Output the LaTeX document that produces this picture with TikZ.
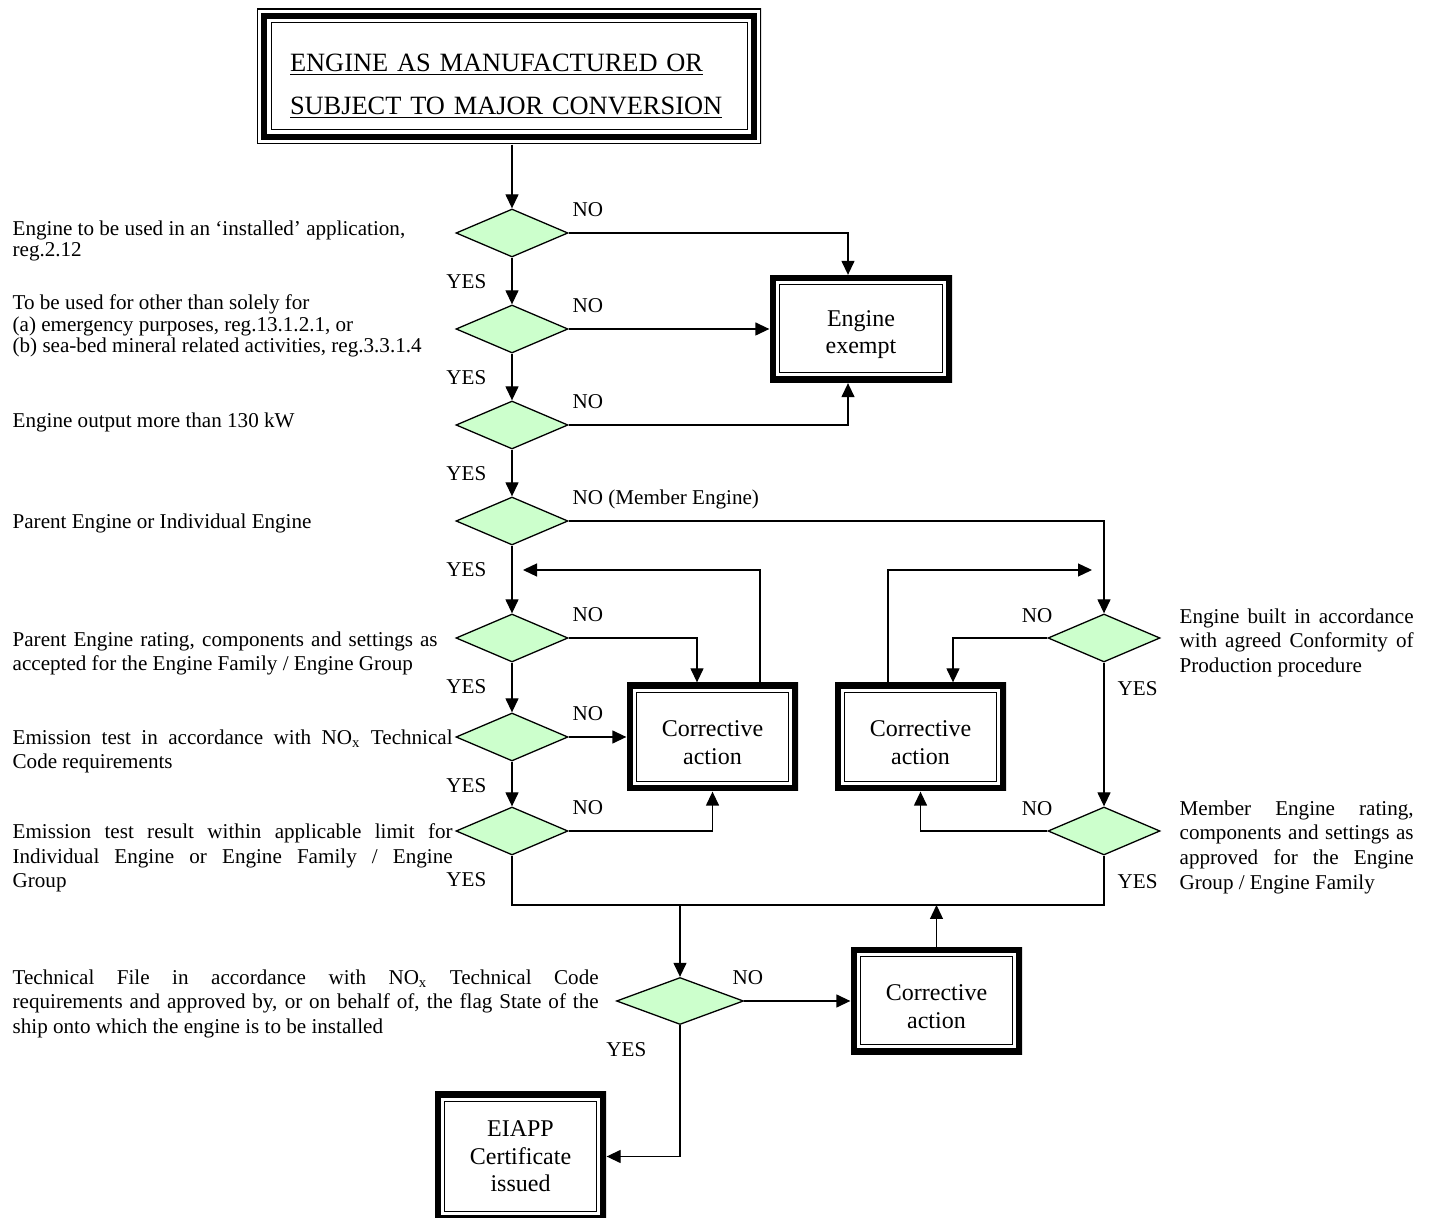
\documentclass[tikz,border=0pt]{standalone}
\usepackage{fontspec}
\setmainfont{Liberation Serif}
\usetikzlibrary{shapes.geometric,arrows.meta,positioning}
\definecolor{decgreen}{RGB}{204,255,204}
\newcommand{\jl}[2]{\makebox[#1][s]{#2}}
\tikzset{
    decision/.style = {draw, diamond, fill=decgreen, inner sep=0pt,
        minimum width=56pt, minimum height=24pt},
    action/.style = {rectangle, fill=white, text width=75pt, align=center,
        minimum width=85.5pt, minimum height=54pt,
        font=\fontsize{12}{13.75}\selectfont,
        path picture={
            \draw[line width=6pt] (path picture bounding box.south west) rectangle (path picture bounding box.north east);
            \draw[line width=0.5pt] ([shift={(4.75pt,4.75pt)}]path picture bounding box.south west) rectangle ([shift={(-4.75pt,-4.75pt)}]path picture bounding box.north east);
        }},
    twoline/.style = {action, execute at begin node={\rule{0pt}{13.5pt}}},
    titlebox/.style = {rectangle, fill=white, minimum width=252pt, minimum height=67.5pt,
        text width=219pt, align=left, font=\fontsize{13.2}{21.5}\selectfont,
        execute at begin node={\rule{0pt}{18.6pt}},
        path picture={
            \draw[line width=1pt] (path picture bounding box.south west) rectangle (path picture bounding box.north east);
            \draw[line width=3pt] ([shift={(3.5pt,3.5pt)}]path picture bounding box.south west) rectangle ([shift={(-3.5pt,-3.5pt)}]path picture bounding box.north east);
            \draw[line width=0.5pt] ([shift={(7pt,7pt)}]path picture bounding box.south west) rectangle ([shift={(-7pt,-7pt)}]path picture bounding box.north east);
        }},
    answer/.style = {inner sep=0pt, font=\fontsize{10.55}{12}\selectfont},
    note/.style = {inner sep=0pt, anchor=north west, align=left,
        font=\fontsize{10.55}{12.3}\selectfont,
        execute at begin node={\rule{0pt}{8pt}}},
    tightnote/.style = {note, font=\fontsize{10.55}{10.85}\selectfont}
}

\begin{document}
\begin{tikzpicture}[x=0.5pt, y=-0.5pt, line width=0.65pt, >={Triangle[length=7pt,width=6.5pt]}]
        \useasboundingbox (0,0) rectangle (1431,1218);
        \node [titlebox] (start) at (509,76.5) {\underline{ENGINE AS MANUFACTURED OR}\\\underline{SUBJECT TO MAJOR CONVERSION}};
        % decisions
        \node [decision] (d1) at (512,233) {};
        \node [decision, below of=d1, node distance=48pt] (d2) {};
        \node [decision, below of=d2, node distance=48pt] (d3) {};
        \node [decision, below of=d3, node distance=48pt] (d4) {};
        \node [decision, below of=d4, node distance=58.5pt] (d5) {};
        \node [decision, below of=d5, node distance=49.5pt] (d6) {};
        \node [decision, below of=d6, node distance=47pt] (d7) {};
        \node [decision, right of=d5, node distance=296pt] (d9) {};
        \node [decision, right of=d7, node distance=296pt] (d10) {};
        \node [decision, minimum width=63.5pt, minimum height=23.5pt] (d8) at (680,1001) {};
        % outcomes
        \node [twoline, right of=d2, node distance=174.5pt, minimum width=91pt, minimum height=53.5pt] (exempt) {Engine\\exempt};
        \node [twoline, right of=d6, node distance=100.25pt] (act1) {Corrective\\action};
        \node [twoline, right of=act1, node distance=104pt] (act2) {Corrective\\action};
        \node [twoline, right of=d8, node distance=128.25pt, minimum height=53.5pt] (act3) {Corrective\\action};
        \node [action, minimum height=64.5pt] (cert) at (520.5,1156.5) {EIAPP\\Certificate\\issued};
        \coordinate (back1) at (523,570);
        \coordinate (back2) at (1092,570);
        \coordinate (join) at (680,905);
        % answers
        \foreach \n in {1,...,7}
            \node [answer, anchor=base east] (yes\n) at ([shift={(-12.5pt,-28pt)}]d\n.center) {YES};
        \foreach \n in {1,2,3,5,6,7}
            \node [answer, anchor=base west] (no\n) at ([shift={(30pt,8pt)}]d\n.center) {NO};
        \node [answer, anchor=base west] (no4) at ([shift={(30pt,8pt)}]d4.center) {NO (Member Engine)};
        \foreach \n in {9,10}{
            \node [answer, anchor=base east] (no\n) at ([shift={(-25.5pt,7.5pt)}]d\n.center) {NO};
            \node [answer, anchor=base west] (yes\n) at ([shift={(6.5pt,-29pt)}]d\n.center) {YES};
        }
        \node [answer, anchor=base west] (no8) at ([shift={(26pt,8pt)}]d8.center) {NO};
        \node [answer, anchor=base east] (yes8) at ([shift={(-16.5pt,-28pt)}]d8.center) {YES};
        % questions
        \node [tightnote] (n1) at (12,220) {Engine to be used in an ‘installed’ application,\\reg.2.12};
        \node [tightnote] (n2) at (12,294) {To be used for other than solely for\\(a) emergency purposes, reg.13.1.2.1, or\\(b) sea-bed mineral related activities, reg.3.3.1.4};
        \node [note] (n3) at (12,411) {Engine output more than 130 kW};
        \node [note] (n4) at (12,512) {Parent Engine or Individual Engine};
        \node [note] (n5) at (12,631) {\jl{212.5pt}{Parent Engine rating, components and settings as}\\accepted for the Engine Family / Engine Group};
        \node [note] (n6) at (12,729) {\jl{220pt}{Emission test in accordance with NO\textsubscript{x} Technical}\\Code requirements};
        \node [note] (n7) at (12,823) {\jl{220pt}{Emission test result within applicable limit for}\\\jl{220pt}{Individual Engine or Engine Family / Engine}\\Group};
        \node [note] (n8) at (12,969) {\jl{293pt}{Technical File in accordance with NO\textsubscript{x} Technical Code}\\\jl{293pt}{requirements and approved by, or on behalf of, the flag State of the}\\ship onto which the engine is to be installed};
        \node [note] (r1) at (1179,608) {\jl{117pt}{Engine built in accordance}\\\jl{117pt}{with agreed Conformity of}\\Production procedure};
        \node [note] (r2) at (1179,800) {\jl{117pt}{Member Engine rating,}\\\jl{117pt}{components and settings as}\\\jl{117pt}{approved for the Engine}\\Group / Engine Family};
        % connectors
        \draw [->] (start.south -| d1.north) -- (d1.north);
        \foreach \a/\b in {d1/d2,d2/d3,d3/d4,d4/d5,d5/d6,d6/d7,d9/d10}
            \draw [->] (\a.south) -- (\b.north);
        \draw [->] (d1.east) -| ([xshift=-6.5pt]exempt.north);
        \draw [->] (d2.east) -- (d2.east -| exempt.west);
        \draw [->] (d3.east) -| ([xshift=-6.5pt]exempt.south);
        \draw [->] (d4.east) -| (d9.north);
        \draw [->] (d5.east) -| ([xshift=-7.75pt]act1.north);
        \draw [->] (d6.east) -- (d6.east -| act1.west);
        \draw [->] (d7.east) -| (act1.south);
        \draw [->] ([xshift=23.75pt]act1.north) |- (back1);
        \draw [->] (d9.west) -| ([xshift=16.25pt]act2.north);
        \draw [->] (d10.west) -| (act2.south);
        \draw [->] ([xshift=-16.25pt]act2.north) |- (back2);
        \draw (d7.south) |- (join) -| (d10.south);
        \draw [->] (join) -- (d8.north);
        \draw [->] (act3.north) -- (act3.north |- join);
        \draw [->] (d8.east) -- (d8.east -| act3.west);
        \draw [->] (d8.south) |- (cert.east);
\end{tikzpicture}
\end{document}
